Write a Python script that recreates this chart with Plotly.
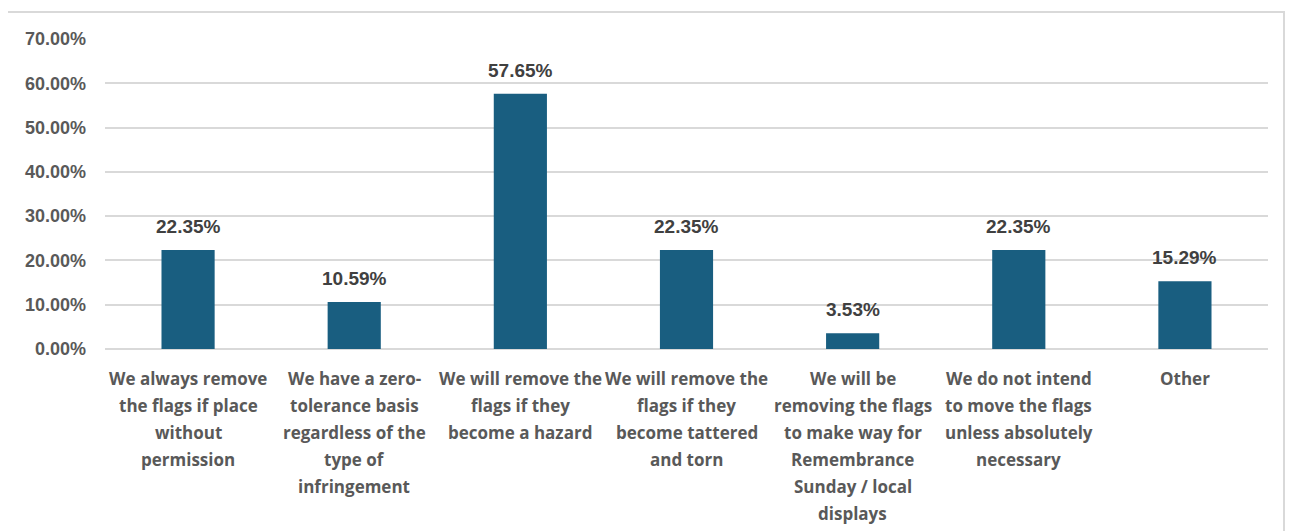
import plotly.graph_objects as go

categories = [
    "We always remove the flags if place without permission",
    "We have a zero-tolerance basis regardless of the type of infringement",
    "We will remove the flags if they become a hazard",
    "We will remove the flags if they become tattered and torn",
    "We will be removing the flags to make way for Remembrance Sunday / local displays",
    "We do not intend to move the flags unless absolutely necessary",
    "Other",
]
category_lines = [
    ["We always remove", "the flags if place", "without", "permission"],
    ["We have a zero-", "tolerance basis", "regardless of the", "type of", "infringement"],
    ["We will remove the", "flags if they", "become a hazard"],
    ["We will remove the", "flags if they", "become tattered", "and torn"],
    ["We will be", "removing the flags", "to make way for", "Remembrance", "Sunday / local", "displays"],
    ["We do not intend", "to move the flags", "unless absolutely", "necessary"],
    ["Other"],
]
values = [0.2235, 0.1059, 0.5765, 0.2235, 0.0353, 0.2235, 0.1529]
value_labels = ["22.35%", "10.59%", "57.65%", "22.35%", "3.53%", "22.35%", "15.29%"]

# page body has an 8px margin; compensate so the plot lands where the reference has it
OFF = 8
W, H = 1299 - OFF, 531 - OFF
L, R, T, B = 105 - OFF, 31, 39 - OFF, 182
pw, ph = W - L - R, H - T - B

fig = go.Figure(go.Bar(
    x=categories, y=values, marker_color="#195E80", width=0.32,
    marker_line_width=0,
))

ann = []
for c, v, t in zip(categories, values, value_labels):
    ann.append(dict(x=c, y=v, xref="x", yref="y", text=t, showarrow=False,
                    yanchor="bottom", yshift=11,
                    font=dict(family="Liberation Sans, Arial", size=19, color="#404040", weight="bold")))
for c, lines in zip(categories, category_lines):
    for i, ln in enumerate(lines):
        ann.append(dict(x=c, y=0, xref="x", yref="paper", text=ln, showarrow=False,
                        yanchor="middle", yshift=-(29 + 27 * i),
                        font=dict(family="Open Sans", size=17, color="#595959", weight="bold")))

px2x = lambda p: (p - OFF - L) / pw
px2y = lambda p: (H - B - (p - OFF)) / ph

fig.update_layout(
    width=W, height=H,
    margin=dict(l=L, r=R, t=T, b=B),
    paper_bgcolor="white", plot_bgcolor="white",
    showlegend=False,
    annotations=ann,
    shapes=[dict(type="rect", xref="paper", yref="paper",
                 x0=px2x(5), x1=px2x(1284), y0=px2y(545), y1=px2y(12),
                 line=dict(color="#D9D9D9", width=2), layer="below")],
    xaxis=dict(showticklabels=False, showgrid=False, showline=False, zeroline=False),
    yaxis=dict(range=[0, 0.7], dtick=0.1, tickformat=".2%",
               showgrid=True, gridcolor="#D9D9D9", gridwidth=1.5,
               zeroline=True, zerolinecolor="#D9D9D9", zerolinewidth=1.5,
               showline=False, ticklabelstandoff=18,
               tickfont=dict(family="Liberation Sans, Arial", size=18, color="#595959", weight="bold")),
)

fig.write_html("out.html")
